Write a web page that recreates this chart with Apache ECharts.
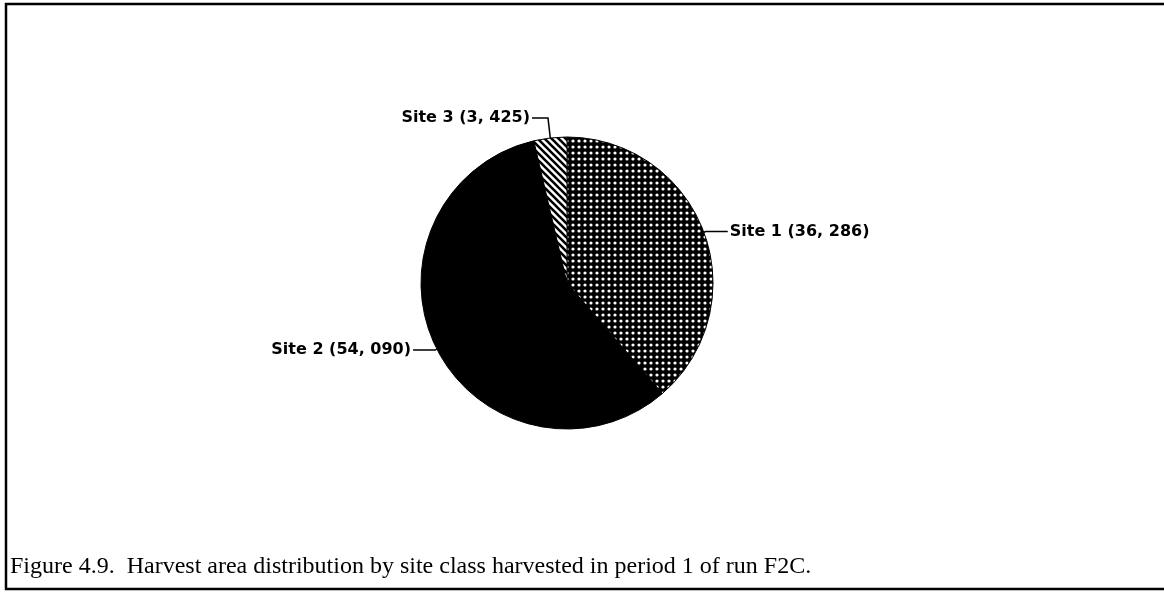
<!DOCTYPE html>
<html>
<head>
<meta charset="utf-8">
<script src="https://cdn.jsdelivr.net/npm/echarts@6/dist/echarts.min.js"></script>
<style>
html,body{margin:0;padding:0;background:#fff;}
#chart{width:1164px;height:593px;}
</style>
</head>
<body>
<div id="chart"></div>
<script>
// ---- data ----
const categories = ['Site 1', 'Site 2', 'Site 3'];
const areaValues = [36286, 54090, 3425];
const areaLabels = ['36, 286', '54, 090', '3, 425'];
const captionText = 'Figure 4.9.  Harvest area distribution by site class harvested in period 1 of run F2C.';

// ---- patterns ----
function dotPattern() {
  const c = document.createElement('canvas');
  c.width = 6; c.height = 6;
  const g = c.getContext('2d');
  g.fillStyle = '#000'; g.fillRect(0, 0, 6, 6);
  g.fillStyle = '#fff';
  g.beginPath(); g.arc(3, 3, 1.6, 0, Math.PI * 2); g.fill();
  return c;
}
function stripePattern() {
  const s = 7;
  const c = document.createElement('canvas');
  c.width = s; c.height = s;
  const g = c.getContext('2d');
  g.fillStyle = '#fff'; g.fillRect(0, 0, s, s);
  g.strokeStyle = '#000'; g.lineWidth = 2.6;
  g.beginPath();
  g.moveTo(-1, -1); g.lineTo(s + 1, s + 1);
  g.moveTo(-1, s - 1); g.lineTo(1, s + 1);
  g.moveTo(s - 1, -1); g.lineTo(s + 1, 1);
  g.stroke();
  return c;
}
const fills = [
  { image: dotPattern(), repeat: 'repeat' },
  '#000',
  { image: stripePattern(), repeat: 'repeat' }
];
const lineLens = [[2, 22], [2, 22], [20, 16]];

const chart = echarts.init(document.getElementById('chart'), null, { renderer: 'canvas' });
chart.setOption({
  animation: false,
  backgroundColor: '#fff',
  graphic: [
    {
      type: 'rect',
      shape: { x: 6, y: 4, width: 1170, height: 585 },
      style: { fill: 'none', stroke: '#000', lineWidth: 2.5 },
      silent: true
    },
    {
      type: 'text',
      left: 10,
      top: 555,
      style: {
        text: captionText,
        fill: '#000',
        font: '24px "Liberation Serif", "Times New Roman", serif'
      },
      silent: true
    }
  ],
  series: [{
    type: 'pie',
    center: [567, 283],
    radius: 146,
    startAngle: 90,
    clockwise: true,
    avoidLabelOverlap: false,
    itemStyle: { borderColor: '#000', borderWidth: 1 },
    label: {
      show: true,
      formatter: p => p.name + ' (' + areaLabels[p.dataIndex] + ')',
      color: '#000',
      fontFamily: '"DejaVu Sans", sans-serif',
      fontWeight: 'bold',
      fontSize: 16,
      distanceToLabelLine: 2
    },
    labelLine: {
      show: true,
      lineStyle: { color: '#000', width: 1.5 }
    },
    data: categories.map((name, i) => ({
      name: name,
      value: areaValues[i],
      itemStyle: { color: fills[i] },
      labelLine: { length: lineLens[i][0], length2: lineLens[i][1] }
    }))
  }]
});
</script>
</body>
</html>
